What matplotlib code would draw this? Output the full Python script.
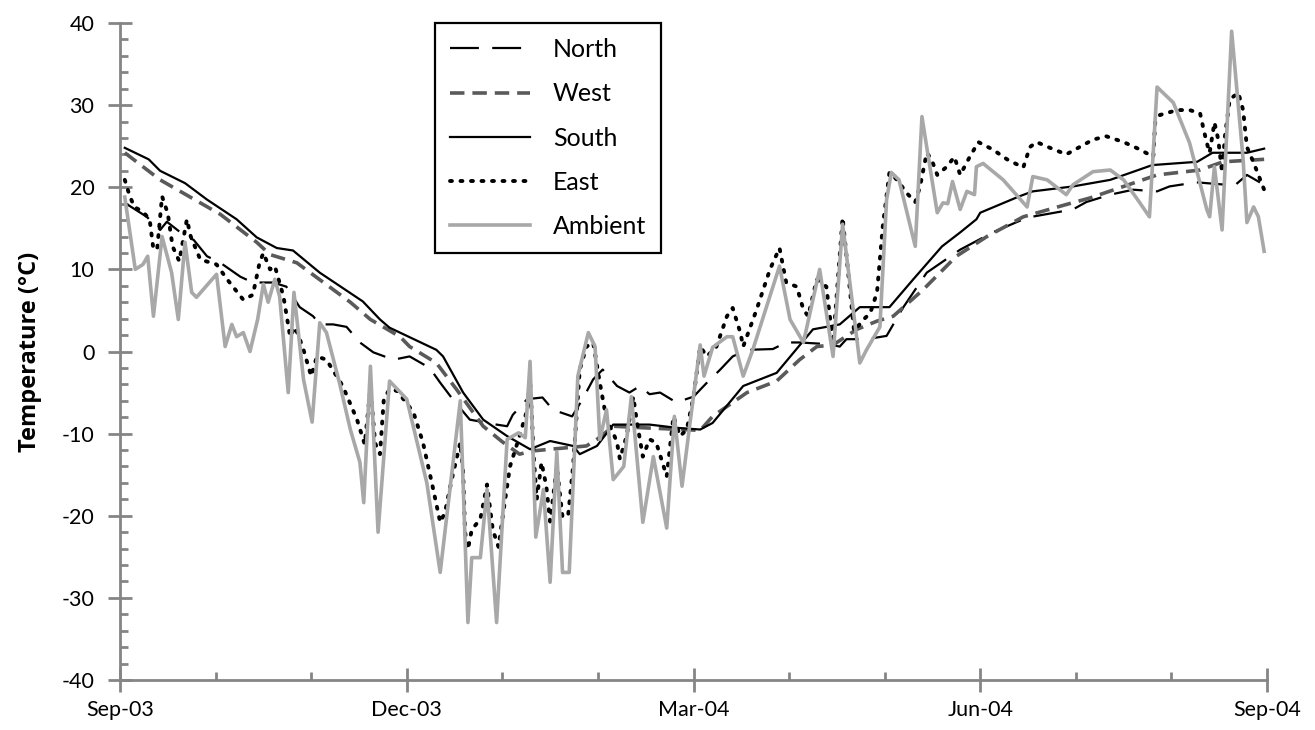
import matplotlib
matplotlib.use("Agg")
import matplotlib.pyplot as plt
from matplotlib.ticker import FixedLocator, MultipleLocator

plt.rcParams['font.family'] = ['Lato', 'DejaVu Sans']
plt.rcParams['axes.unicode_minus'] = False

# x values: months since 1 Sep 2003
month_ticks = list(range(0, 13))
major_months = [0, 3, 6, 9, 12]
major_labels = ["Sep-03", "Dec-03", "Mar-04", "Jun-04", "Sep-04"]

north_x = [0.05, 0.28, 0.42, 0.49, 0.6, 0.7, 0.77, 0.91, 1.05, 1.26, 1.39, 1.6, 1.74, 1.88, 2.02, 2.09,
           2.23, 2.37, 2.51, 2.65, 2.86, 3.03, 3.24, 3.35, 3.48, 3.66, 3.94, 4.05, 4.11, 4.26, 4.42,
           4.53, 4.73, 4.84, 4.95, 5.05, 5.2, 5.33, 5.44, 5.54, 5.65, 5.82, 6.0, 6.14, 6.28, 6.41,
           6.56, 6.83, 6.97, 7.11, 7.4, 7.53, 7.6, 7.81, 8.02, 8.19, 8.44, 8.79, 9.13, 9.49, 9.97,
           10.11, 10.36, 10.6, 10.85, 10.98, 11.26, 11.58, 11.63, 11.79, 11.97]
north_y = [18.1, 16.4, 14.8, 15.8, 14.8, 13.9, 13.6, 11.6, 10.8, 9.1, 8.4, 8.4, 7.9, 5.4, 4.3, 3.3,
           3.3, 3.0, 1.1, -0.1, -1.0, -0.6, -2.0, -3.8, -5.8, -8.3, -8.9, -9.1, -7.7, -5.8, -5.6,
           -7.1, -7.9, -5.8, -3.4, -2.2, -4.2, -5.0, -4.2, -5.2, -5.0, -6.2, -5.5, -3.8, -2.2, -0.6,
           0.2, 0.3, 1.1, 1.1, 0.9, 0.6, 1.5, 1.5, 1.9, 5.3, 9.6, 12.4, 14.5, 16.3, 17.3,
           18.2, 19.1, 19.7, 19.5, 20.1, 20.6, 20.3, 19.9, 21.5, 20.3]

west_x = [0.05, 0.42, 1.05, 1.43, 1.57, 1.85, 2.27, 2.41, 2.62, 2.93, 3.03, 3.31, 3.52, 3.8, 4.0,
          4.18, 4.32, 4.88, 4.99, 5.16, 5.5, 6.07, 6.2, 6.56, 6.87, 7.11, 7.29, 7.46, 7.71, 7.92,
          8.09, 8.4, 8.75, 9.07, 9.45, 9.9, 10.15, 10.5, 10.85, 11.3, 11.54, 11.97]
west_y = [24.2, 20.9, 16.7, 13.3, 11.8, 10.8, 7.2, 6.0, 3.9, 1.8, 0.6, -1.4, -4.6, -9.1, -11.0,
          -12.5, -12.1, -11.5, -10.7, -9.1, -9.3, -9.6, -7.9, -5.0, -3.6, -1.0, 0.6, 0.8, 2.7, 3.7,
          4.3, 7.5, 11.6, 14.0, 16.4, 17.9, 18.7, 20.1, 21.5, 22.1, 23.1, 23.4]

south_x = [0.05, 0.3, 0.42, 0.68, 0.91, 1.22, 1.43, 1.64, 1.81, 2.09, 2.54, 2.72, 2.82, 3.31, 3.38,
           3.59, 3.8, 4.05, 4.29, 4.5, 4.74, 4.81, 4.99, 5.16, 5.54, 5.83, 6.07, 6.2, 6.52, 6.87,
           7.25, 7.53, 7.74, 8.05, 8.3, 8.6, 8.79, 8.96, 9.0, 9.41, 9.55, 9.97, 10.36, 10.8, 11.27,
           11.43, 11.79, 11.97]
south_y = [24.8, 23.4, 22.0, 20.5, 18.5, 16.1, 13.9, 12.6, 12.3, 9.6, 6.1, 3.9, 2.9, 0.2, -0.6,
           -5.0, -8.3, -10.3, -11.9, -10.9, -11.5, -12.5, -11.5, -8.9, -8.9, -9.3, -9.5, -8.7, -4.2, -2.6,
           2.7, 3.3, 5.4, 5.4, 8.8, 12.8, 14.5, 16.1, 16.9, 18.9, 19.5, 20.1, 20.9, 22.7, 23.1,
           24.2, 24.2, 24.7]

east_x = [0.05, 0.1, 0.15, 0.24, 0.31, 0.35, 0.39, 0.44, 0.5, 0.55, 0.62, 0.7, 0.74, 0.84, 1.01,
          1.12, 1.29, 1.39, 1.46, 1.5, 1.57, 1.62, 1.71, 1.78, 1.83, 1.91, 2.0, 2.06, 2.16, 2.33,
          2.48, 2.56, 2.62, 2.67, 2.72, 2.76, 2.82, 2.9, 3.07, 3.17, 3.27, 3.35, 3.4, 3.47, 3.56,
          3.59, 3.61, 3.64, 3.68, 3.77, 3.84, 3.9, 3.96, 4.01, 4.08, 4.18, 4.26, 4.29, 4.33, 4.36,
          4.41, 4.46, 4.5, 4.57, 4.63, 4.69, 4.74, 4.81, 4.88, 4.95, 5.02, 5.09, 5.16, 5.2, 5.23,
          5.3, 5.37, 5.41, 5.47, 5.54, 5.61, 5.72, 5.79, 5.86, 5.93, 6.0, 6.07, 6.14, 6.24, 6.35,
          6.41, 6.49, 6.52, 6.66, 6.8, 6.9, 6.97, 7.08, 7.15, 7.2, 7.29, 7.39, 7.46, 7.56, 7.68,
          7.78, 7.85, 7.92, 7.98, 8.05, 8.13, 8.23, 8.32, 8.37, 8.44, 8.49, 8.55, 8.65, 8.73, 8.79,
          8.89, 8.98, 9.13, 9.28, 9.45, 9.52, 9.59, 9.73, 9.9, 10.18, 10.32, 10.5, 10.67, 10.81, 10.83,
          10.88, 11.06, 11.19, 11.3, 11.33, 11.37, 11.4, 11.45, 11.49, 11.53, 11.56, 11.61, 11.7, 11.75,
          11.79, 11.86, 11.97]
east_y = [20.9, 19.0, 17.6, 17.0, 16.1, 12.4, 12.6, 18.9, 16.8, 12.8, 11.0, 16.1, 14.0, 11.2, 10.6,
          8.8, 6.3, 6.9, 10.8, 12.0, 10.0, 10.4, 6.7, 1.8, 3.0, 0.6, -3.0, -0.6, -1.0, -4.2,
          -8.3, -11.3, -4.5, -11.2, -12.5, -5.8, -4.6, -4.8, -7.4, -11.1, -16.4, -20.8, -19.6, -15.6, -11.1,
          -14.7, -22.0, -24.1, -21.7, -20.4, -16.2, -21.7, -23.8, -19.6, -14.0, -10.3, -7.1, -3.4, -13.1, -18.0,
          -13.5, -16.4, -20.7, -14.0, -20.2, -19.8, -14.0, -2.2, 0.6, 1.1, -3.8, -8.3, -9.9, -11.1, -13.1,
          -10.3, -5.5, -8.7, -12.8, -10.7, -11.1, -15.2, -7.9, -10.3, -9.5, -5.5, 0.6, -0.6, 0.6, 4.3,
          5.3, 2.3, 0.6, 5.1, 10.0, 12.6, 8.4, 7.9, 5.1, 4.3, 8.8, 7.9, 1.0, 16.3, 2.5,
          3.9, 4.7, 7.2, 15.2, 21.8, 20.9, 19.3, 18.2, 20.1, 24.2, 23.4, 21.5, 22.5, 23.7, 21.5,
          23.7, 25.5, 24.6, 23.4, 22.4, 24.9, 25.5, 24.8, 24.0, 25.8, 26.2, 25.5, 24.6, 23.7, 27.9,
          28.8, 29.4, 29.4, 29.0, 27.4, 25.4, 24.2, 27.9, 25.8, 21.8, 26.2, 30.7, 31.5, 29.4,
          24.9, 23.0, 19.7]

ambient_x = [0.05, 0.16, 0.24, 0.29, 0.35, 0.44, 0.54, 0.61, 0.68, 0.75, 0.8, 1.01, 1.1, 1.17, 1.22,
             1.29, 1.36, 1.44, 1.5, 1.55, 1.62, 1.67, 1.76, 1.82, 1.92, 2.01, 2.09, 2.16, 2.3, 2.41,
             2.51, 2.55, 2.62, 2.7, 2.82, 3.0, 3.21, 3.35, 3.56, 3.64, 3.68, 3.77, 3.84, 3.94, 4.05,
             4.17, 4.24, 4.29, 4.35, 4.43, 4.5, 4.57, 4.63, 4.7, 4.79, 4.9, 4.97, 5.02, 5.09, 5.16,
             5.27, 5.35, 5.47, 5.58, 5.72, 5.8, 5.88, 5.96, 6.07, 6.11, 6.2, 6.35, 6.41, 6.52, 6.62,
             6.9, 7.01, 7.15, 7.32, 7.46, 7.56, 7.74, 7.81, 7.95, 8.02, 8.07, 8.15, 8.32, 8.39, 8.44,
             8.55, 8.61, 8.66, 8.71, 8.79, 8.86, 8.94, 8.96, 9.03, 9.24, 9.49, 9.55, 9.7, 9.9, 9.97,
             10.18, 10.36, 10.5, 10.67, 10.77, 10.85, 11.02, 11.19, 11.37, 11.4, 11.45, 11.53, 11.63, 11.75, 11.79,
             11.86, 11.91, 11.97]
ambient_y = [18.8, 10.0, 10.6, 11.6, 4.3, 14.0, 9.6, 3.9, 13.3, 7.2, 6.6, 9.4, 0.6, 3.3, 1.8,
             2.3, 0.0, 3.9, 8.2, 6.0, 8.8, 6.7, -5.0, 7.2, -3.4, -8.6, 3.5, 2.3, -4.0, -9.5,
             -13.5, -18.4, -1.8, -22.0, -3.6, -5.8, -16.0, -26.9, -6.0, -33.0, -25.1, -25.1, -16.8, -33.0, -10.7,
             -9.9, -10.5, -1.2, -22.6, -16.8, -28.1, -12.2, -26.9, -26.9, -3.0, 2.3, 0.6, -10.7, -7.1, -15.6,
             -14.0, -5.5, -20.8, -12.8, -21.5, -7.9, -16.4, -9.0, 0.8, -3.0, 0.5, 1.8, 1.8, -3.0, 0.2,
             10.4, 3.9, 1.1, 10.0, -0.6, 15.5, -1.4, 0.2, 3.0, 18.5, 21.8, 20.9, 12.8, 28.6, 24.9,
             16.9, 18.1, 18.0, 20.7, 17.3, 19.5, 19.1, 22.5, 22.9, 20.9, 17.6, 21.3, 20.9, 19.1, 20.3,
             21.9, 22.1, 20.9, 18.1, 16.4, 32.2, 30.3, 25.4, 17.3, 16.4, 22.5, 14.8, 39.0, 23.4, 15.7,
             17.6, 16.4, 12.2]

axis_gray = "#858585"

fig = plt.figure(figsize=(13.15, 7.3), dpi=100)
ax = fig.add_axes([120 / 1315, 50 / 730, 1147 / 1315, 657 / 730])

ax.plot(north_x, north_y, color="black", lw=1.6, dashes=(13, 6), label="North")
ax.plot(west_x, west_y, color="#5a5a5a", lw=2.6, dashes=(4.0, 2.2), label="West")
ax.plot(south_x, south_y, color="black", lw=1.6, label="South")
ax.plot(east_x, east_y, color="black", lw=2.8, linestyle=(0, (0.5, 2.2)),
        dash_capstyle="round", label="East")
ax.plot(ambient_x, ambient_y, color="#a8a8a8", lw=2.6, label="Ambient")

ax.set_xlim(0, 12)
ax.set_ylim(-40, 40)
ax.xaxis.set_major_locator(FixedLocator(major_months))
ax.set_xticklabels(major_labels)
ax.xaxis.set_minor_locator(FixedLocator(month_ticks))
ax.yaxis.set_major_locator(MultipleLocator(10))
ax.yaxis.set_minor_locator(MultipleLocator(2))

for s in ["top", "right"]:
    ax.spines[s].set_visible(False)
for s in ["left", "bottom"]:
    ax.spines[s].set_color(axis_gray)
    ax.spines[s].set_linewidth(2)

ax.tick_params(which="major", direction="inout", length=17, width=2, color=axis_gray,
               labelsize=15.5, labelcolor="black")
ax.tick_params(axis="y", which="major", pad=10)
ax.tick_params(axis="x", which="major", pad=6)
ax.tick_params(which="minor", direction="in", length=6, width=2, color=axis_gray)

ax.set_ylabel("Temperature (°C)", fontsize=17, fontweight="bold",
              family=["Open Sans", "DejaVu Sans"], labelpad=14)

leg = ax.legend(loc="upper left", bbox_to_anchor=(0.2746, 1.0), fontsize=18,
                frameon=True, fancybox=False, edgecolor="black", handlelength=3.2,
                handletextpad=0.92, labelspacing=0.85, borderpad=0.6, borderaxespad=0,
                framealpha=1)
leg.get_frame().set_linewidth(1.6)

fig.savefig("out.png", dpi=100)
